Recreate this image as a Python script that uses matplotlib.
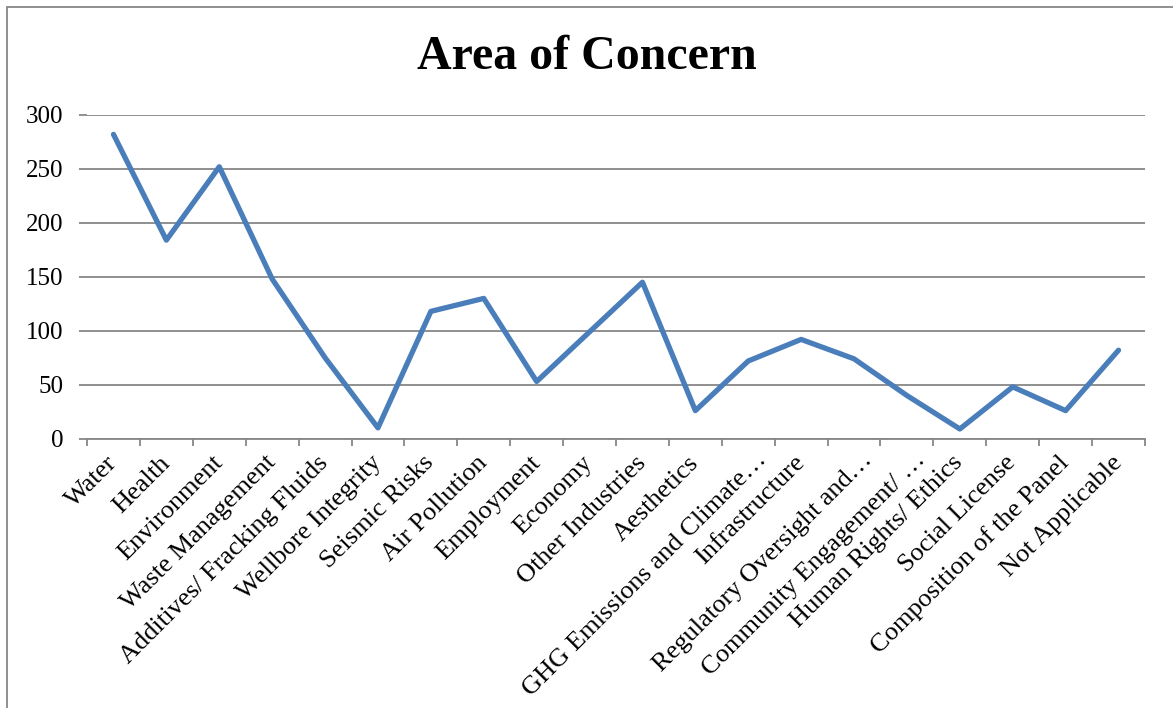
import matplotlib.pyplot as plt
from matplotlib.patches import Rectangle
from matplotlib.transforms import ScaledTranslation
import numpy as np

# categories and counts
areas = ['Water', 'Health', 'Environment', 'Waste Management',
         'Additives/ Fracking Fluids', 'Wellbore Integrity', 'Seismic Risks',
         'Air Pollution', 'Employment', 'Economy', 'Other Industries',
         'Aesthetics', 'GHG Emissions and Climate\u2026', 'Infrastructure',
         'Regulatory Oversight and\u2026', 'Community Engagement/ \u2026',
         'Human Rights/ Ethics', 'Social License', 'Composition of the Panel',
         'Not Applicable']
counts = [282, 184, 252, 148, 75, 10, 118, 130, 53, 99, 145, 26, 72, 92,
          74, 40, 9, 48, 26, 82]

plt.rcParams['font.family'] = ['Liberation Serif', 'DejaVu Serif']

fig = plt.figure(figsize=(11.73, 7.08), dpi=100)
ax = fig.add_axes([0.0742, 0.3804, 0.9019, 0.4572])

x = np.arange(len(areas))
ax.plot(x, counts, color='#4a7ebb', lw=3.8,
        solid_capstyle='round', solid_joinstyle='round', zorder=3)

ax.set_xlim(-0.5, len(areas) - 0.5)
ax.set_ylim(0, 300)
ax.set_yticks(np.arange(0, 301, 50))
ax.grid(axis='y', color='#878787', lw=1.3)
ax.set_axisbelow(True)

# category labels at centres, tick marks between categories
ax.set_xticks(x)
ax.set_xticklabels(areas, rotation=45, ha='right', va='center',
                   rotation_mode='anchor', fontsize=19)
ax.set_xticks(np.arange(-0.5, len(areas)), minor=True)
ax.tick_params(axis='x', which='major', length=0, pad=15)
ax.tick_params(axis='x', which='minor', length=5, width=1.3,
               color='#878787', direction='out')
ax.tick_params(axis='y', length=6, width=1.3, color='#878787',
               labelsize=18, pad=11)

# truncated labels sit a little further right
for lab in ax.get_xticklabels():
    if lab.get_text().endswith('\u2026'):
        lab.set_transform(lab.get_transform() +
                          ScaledTranslation(0.15, 0.03, fig.dpi_scale_trans))

for s in ['top', 'right', 'left']:
    ax.spines[s].set_visible(False)
ax.spines['bottom'].set_color('#878787')
ax.spines['bottom'].set_linewidth(1.3)

fig.text(0.5, 0.92, 'Area of Concern', ha='center', va='center',
         fontsize=34.5, fontweight='bold')

# outer frame of the chart area
fig.patches.append(Rectangle((7 / 1173, -0.1), 1.2, 1.1 - 7 / 708,
                             transform=fig.transFigure, fill=False,
                             edgecolor='#878787', lw=1.3))

fig.savefig('out.png', dpi=100)
